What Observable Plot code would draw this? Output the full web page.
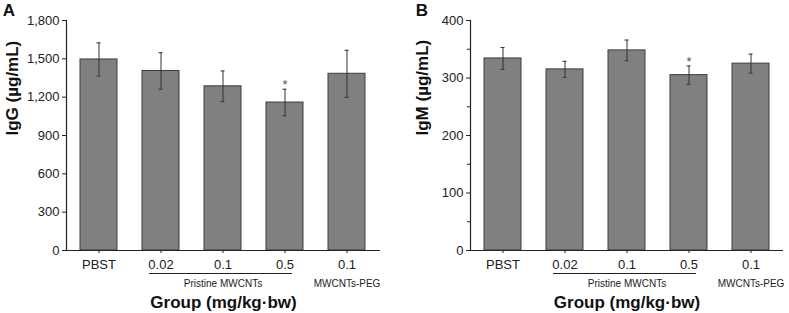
<!DOCTYPE html>
<html>
<head>
<meta charset="utf-8">
<script src="https://cdn.jsdelivr.net/npm/d3@7"></script>
<script src="https://cdn.jsdelivr.net/npm/@observablehq/plot@0.6"></script>
<style>
  html, body { margin: 0; padding: 0; background: #fff; }
  #wrap { display: flex; width: 789px; height: 313px; }
  #wrap > div { flex: none; }
  svg { display: block; font-family: "Liberation Sans", Arial, sans-serif; }
  svg g[aria-label$="tick label"] { font-size: 13px !important; font-family: "Liberation Sans", Arial, sans-serif; font-variant: normal; }
</style>
</head>
<body>
<div id="wrap"><div id="a"></div><div id="b"></div></div>
<script>
// ---- data ----
const groups = ["PBST", "P0.02", "P0.1", "P0.5", "PEG0.1"];
const tickLabels = ["PBST", "0.02", "0.1", "0.5", "0.1"];
const iggMean = [1495, 1405, 1285, 1158, 1383];
const iggErr = [130, 143, 120, 104, 184];
const igmMean = [334, 315, 348, 305, 325];
const igmErr = [19, 14, 18, 16, 16.5];
const significant = [false, false, false, true, false];
const iggTicks = [0, 300, 600, 900, 1200, 1500, 1800];
const igmTicks = [0, 100, 200, 300, 400];
const igmMinorTicks = [50, 150, 250, 350];

const labelOf = new Map(groups.map((g, i) => [g, tickLabels[i]]));

function makeChart({letter, yLabel, mean, err, ticks, minorTicks, yMax, width, marginLeft, marginRight, yLabelDx, letterDx, tickFmt}) {
  const rows = groups.map((g, i) => ({group: g, value: mean[i], lo: mean[i] - err[i], hi: mean[i] + err[i], sig: significant[i]}));
  const marks = [
    Plot.barY(rows, {x: "group", y: "value", fill: "#808080", stroke: "#3d3d3d", strokeWidth: 1}),
    Plot.ruleX(rows, {x: "group", y1: "lo", y2: "hi", stroke: "#333", strokeWidth: 1}),
    Plot.tickY(rows, {x: "group", y: "lo", stroke: "#333", strokeWidth: 1, inset: 16.5}),
    Plot.tickY(rows, {x: "group", y: "hi", stroke: "#333", strokeWidth: 1, inset: 16.5}),
    Plot.text(rows.filter(d => d.sig), {x: "group", y: "hi", text: () => "*", dy: -4, fontSize: 13, fill: "#555"}),
    Plot.ruleY([0], {stroke: "#222", strokeWidth: 1.2}),
    Plot.frame({anchor: "left", stroke: "#222", strokeWidth: 1.2}),
    Plot.axisY({ticks, tickFormat: tickFmt, tickSize: 4, tickPadding: 3, fontSize: 13, label: null, stroke: "#222", color: "#222"}),
    Plot.axisX({tickSize: 3, tickPadding: 6, fontSize: 13, label: null, tickFormat: d => labelOf.get(d), color: "#222"}),
    Plot.ruleY([0], {x1: () => "P0.02", x2: () => "P0.5", dy: 23, insetLeft: 7, insetRight: 11, stroke: "#222", strokeWidth: 1}),
    Plot.text(["Pristine MWCNTs"], {x: () => "P0.1", y: () => 0, text: d => d, dy: 33, fontSize: 10, fill: "#222"}),
    Plot.text(["MWCNTs-PEG"], {x: () => "PEG0.1", y: () => 0, text: d => d, dy: 33, fontSize: 10, fill: "#222"}),
    Plot.text(["Group (mg/kg\u00b7bw)"], {frameAnchor: "bottom", lineAnchor: "middle", text: d => d, dy: 52.5, fontSize: 17, fontWeight: "bold", fill: "#111"}),
    Plot.text([yLabel], {frameAnchor: "left", lineAnchor: "middle", text: d => d, rotate: -90, dx: yLabelDx, fontSize: 17, fontWeight: "bold", fill: "#111"}),
    Plot.text([letter], {frameAnchor: "top-left", lineAnchor: "middle", textAnchor: "middle", text: d => d, dx: letterDx, dy: -10, fontSize: 17, fontWeight: "bold", fill: "#111"})
  ];
  if (minorTicks) {
    marks.push(Plot.axisY({ticks: minorTicks, tickFormat: null, tickSize: 3, text: null, label: null, stroke: "#222"}));
  }
  return Plot.plot({
    width,
    height: 313,
    marginTop: 20,
    marginBottom: 63,
    marginLeft,
    marginRight,
    style: {fontFamily: "'Liberation Sans', Arial, sans-serif", fontSize: "13px", background: "white"},
    x: {type: "band", domain: groups, paddingInner: 0.4, paddingOuter: 0.2, axis: null},
    y: {domain: [0, yMax], axis: null},
    marks
  });
}

document.getElementById("a").appendChild(makeChart({
  letter: "A", yLabel: "IgG (\u00b5g/mL)", mean: iggMean, err: iggErr,
  ticks: iggTicks, minorTicks: null, yMax: 1800, width: 395, marginLeft: 66, marginRight: 15,
  yLabelDx: -54, letterDx: -57.5, tickFmt: d3.format(",")
}));
document.getElementById("b").appendChild(makeChart({
  letter: "B", yLabel: "IgM (\u00b5g/mL)", mean: igmMean, err: igmErr,
  ticks: igmTicks, minorTicks: igmMinorTicks, yMax: 400, width: 394, marginLeft: 75, marginRight: 6,
  yLabelDx: -48, letterDx: -48.5, tickFmt: d3.format(",")
}));
</script>
</body>
</html>
